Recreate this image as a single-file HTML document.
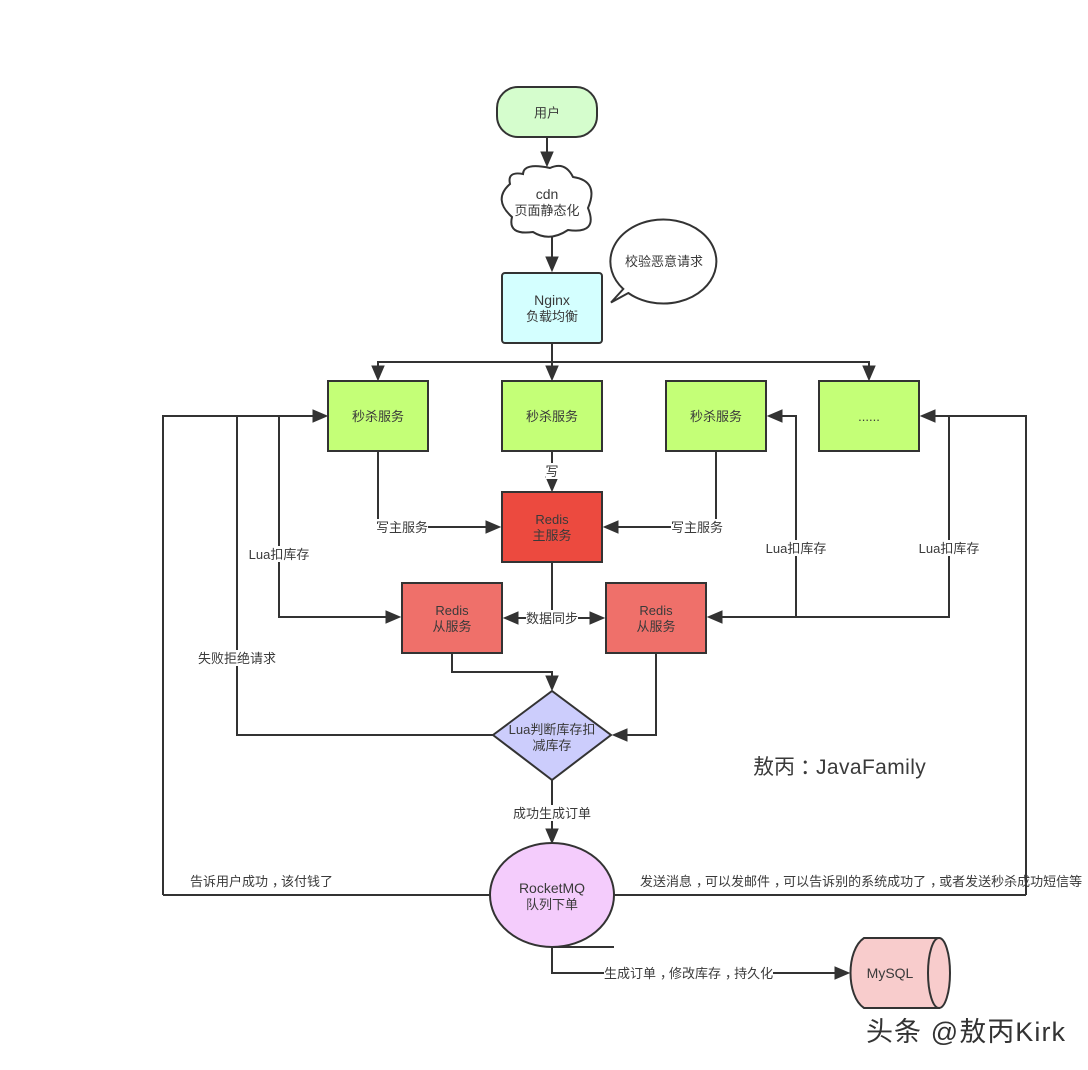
<!DOCTYPE html>
<html lang="zh">
<head>
<meta charset="utf-8">
<title>秒杀架构图</title>
<style>
html,body{margin:0;padding:0;background:#fff}
svg{display:block}
text{font-family:"Liberation Sans","Noto Sans CJK SC",sans-serif;font-size:13px;fill:#3a3a3a;text-anchor:middle}
.s{stroke:#333;stroke-width:2}
.l{fill:none;stroke:#333;stroke-width:2}
.a{fill:#333;stroke:#333;stroke-width:1}
.st{text-anchor:start}
.b{font-size:14px}
</style>
</head>
<body>
<svg width="1088" height="1070" viewBox="0 0 1088 1070" xmlns="http://www.w3.org/2000/svg">
<rect width="1088" height="1070" fill="#fff"/>

<!-- connectors -->
<path class="l" d="M547 137V153"/>
<path class="l" d="M552 236V257"/>
<path class="l" d="M552 343V366M378 366V362H869V366"/>
<path class="l" d="M378 451V527H487"/>
<path class="l" d="M552 451V477"/>
<path class="l" d="M716 451V527H618"/>
<path class="l" d="M163 895V416H313"/>
<path class="l" d="M237 416V735H493"/>
<path class="l" d="M279 416V617H387"/>
<path class="l" d="M552 563V618M517 618H527M577 618H591"/>
<path class="l" d="M1026 895V416H934"/>
<path class="l" d="M949 416V617H721"/>
<path class="l" d="M796 617V416H781"/>
<path class="l" d="M452 653V672H552V676"/>
<path class="l" d="M656 653V735H627"/>
<path class="l" d="M552 780V829"/>
<path class="l" d="M163 895H490M614 895H1026"/>
<path class="l" d="M552 947H614"/>
<path class="l" d="M552 947V973H836"/>

<!-- arrowheads -->
<path class="a" d="M547 166l-6-14h12z"/>
<path class="a" d="M552 271l-6-14h12z"/>
<path class="a" d="M378 380l-6-14h12z"/>
<path class="a" d="M552 380l-6-14h12z"/>
<path class="a" d="M869 380l-6-14h12z"/>
<path class="a" d="M500 527l-14-6v12z"/>
<path class="a" d="M552 491l-6-14h12z"/>
<path class="a" d="M604 527l14-6v12z"/>
<path class="a" d="M327 416l-14-6v12z"/>
<path class="a" d="M400 617l-14-6v12z"/>
<path class="a" d="M504 618l14-6v12z"/>
<path class="a" d="M604 618l-14-6v12z"/>
<path class="a" d="M708 617l14-6v12z"/>
<path class="a" d="M768 416l14-6v12z"/>
<path class="a" d="M921 416l14-6v12z"/>
<path class="a" d="M552 690l-6-14h12z"/>
<path class="a" d="M613 735l14-6v12z"/>
<path class="a" d="M552 843l-6-14h12z"/>
<path class="a" d="M849 973l-14-6v12z"/>

<!-- nodes -->
<rect class="s" x="497" y="87" width="100" height="50" rx="21" ry="21" fill="#d5fdcd"/>
<text x="547" y="117.5">用户</text>

<path class="s" fill="#fff" d="M510 184Q492.4 199.5 512 217Q507.5 235.5 533 232Q549.5 242.4 568 230Q598.6 234.4 588 208Q599.5 181 573 177Q565 161 550 168Q523.5 162.4 523 174Q507 171 510 184Z"/>
<text class="b" x="547" y="199">cdn</text>
<text x="547" y="215">页面静态化</text>

<path class="s" fill="#fff" d="M623.3 289L611 302.5L628.3 293A53 42 0 1 0 623.3 289Z"/>
<text x="664" y="266">校验恶意请求</text>

<rect class="s" x="502" y="273" width="100" height="70" rx="3" fill="#d4ffff"/>
<text class="b" x="552" y="305">Nginx</text>
<text x="552" y="321">负载均衡</text>

<rect class="s" x="328" y="381" width="100" height="70" fill="#c4ff77"/>
<text x="378" y="421">秒杀服务</text>
<rect class="s" x="502" y="381" width="100" height="70" fill="#c4ff77"/>
<text x="552" y="421">秒杀服务</text>
<rect class="s" x="666" y="381" width="100" height="70" fill="#c4ff77"/>
<text x="716" y="421">秒杀服务</text>
<rect class="s" x="819" y="381" width="100" height="70" fill="#c4ff77"/>
<text x="869" y="421">......</text>

<rect class="s" x="502" y="492" width="100" height="70" fill="#ec4a3f"/>
<text x="552" y="524">Redis</text>
<text x="552" y="540">主服务</text>

<rect class="s" x="402" y="583" width="100" height="70" fill="#ef706a"/>
<text x="452" y="615">Redis</text>
<text x="452" y="631">从服务</text>
<rect class="s" x="606" y="583" width="100" height="70" fill="#ef706a"/>
<text x="656" y="615">Redis</text>
<text x="656" y="631">从服务</text>

<path class="s" fill="#cccdfc" d="M493 735L552 691L611 735L552 780Z"/>
<text x="552" y="734">Lua判断库存扣</text>
<text x="552" y="750">减库存</text>

<ellipse class="s" cx="552" cy="895" rx="62" ry="52" fill="#f4ccfc"/>
<text class="b" x="552" y="893">RocketMQ</text>
<text x="552" y="909">队列下单</text>

<path class="s" fill="#f8cccc" d="M939 938H864C846 950 846 996 864 1008H939Z"/>
<ellipse class="s" cx="939" cy="973" rx="11" ry="35" fill="#f8cccc"/>
<text class="b" x="890" y="978">MySQL</text>

<!-- connector labels -->
<rect x="546" y="463" width="13" height="16" fill="#fff"/>
<text x="552" y="476">写</text>
<rect x="376" y="519" width="52" height="16" fill="#fff"/>
<text x="402" y="532">写主服务</text>
<rect x="671" y="519" width="52" height="16" fill="#fff"/>
<text x="697" y="532">写主服务</text>
<rect x="249" y="546" width="60" height="16" fill="#fff"/>
<text x="279" y="559">Lua扣库存</text>
<rect x="766" y="540" width="60" height="16" fill="#fff"/>
<text x="796" y="553">Lua扣库存</text>
<rect x="919" y="540" width="60" height="16" fill="#fff"/>
<text x="949" y="553">Lua扣库存</text>
<rect x="198" y="650" width="78" height="16" fill="#fff"/>
<text x="237" y="663">失败拒绝请求</text>
<rect x="526" y="610" width="52" height="16" fill="#fff"/>
<text x="552" y="623">数据同步</text>
<rect x="513" y="805" width="78" height="16" fill="#fff"/>
<text x="552" y="818">成功生成订单</text>
<rect x="604" y="965" width="169" height="16" fill="#fff"/>
<text class="st" x="604" y="978">生成订单<tspan dx="4">，</tspan><tspan dx="-4">修改库存</tspan><tspan dx="4">，</tspan><tspan dx="-4">持久化</tspan></text>
<text class="st" x="190" y="886">告诉用户成功<tspan dx="4">，</tspan><tspan dx="-4">该付钱了</tspan></text>
<text class="st" x="640" y="886">发送消息<tspan dx="4">，</tspan><tspan dx="-4">可以发邮件</tspan><tspan dx="4">，</tspan><tspan dx="-4">可以告诉别的系统成功了</tspan><tspan dx="4">，</tspan><tspan dx="-4">或者发送秒杀成功短信等</tspan></text>

<!-- free text -->
<text class="st" x="753" y="774" style="font-size:21px">敖丙<tspan dx="5">：</tspan><tspan dx="-5" style="letter-spacing:.4px">JavaFamily</tspan></text>
<text class="st" x="866" y="1041" textLength="199" style="font-size:27px;fill:#333;stroke:#fff;stroke-width:.5px;paint-order:stroke">头条 @敖丙Kirk</text>
</svg>
</body>
</html>
